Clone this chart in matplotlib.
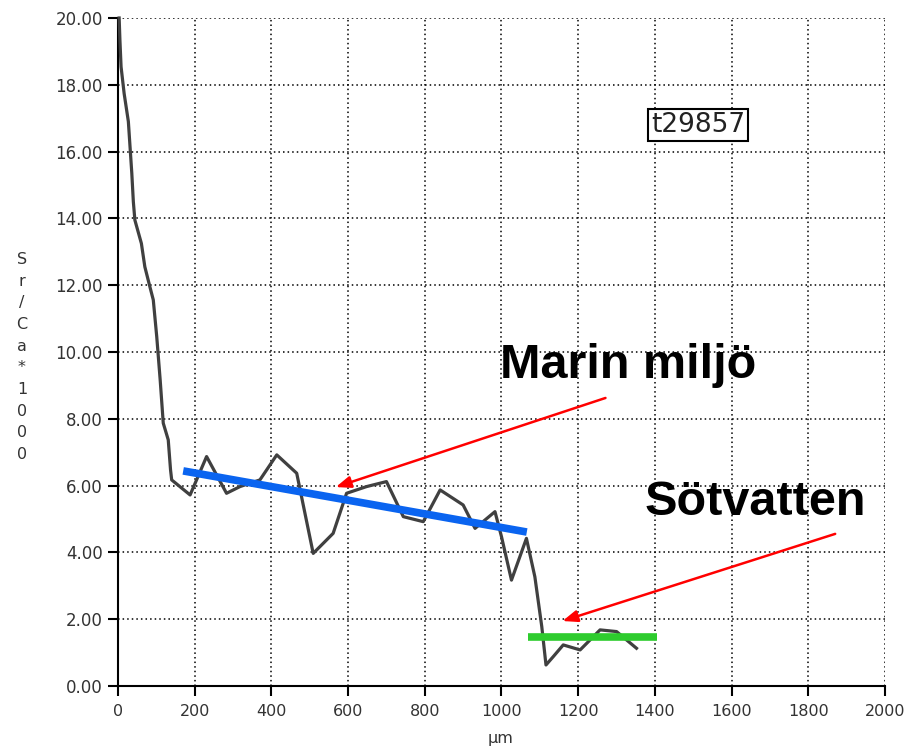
import matplotlib
matplotlib.use("Agg")
import matplotlib.pyplot as plt

# data
dist_um = [3, 5, 8, 16, 27, 36, 40, 44, 61, 70, 83, 92, 101, 110, 118, 131, 137, 140,
           188, 231, 283, 318, 370, 414, 466, 509, 561, 596, 648, 700, 744, 796, 840,
           900, 931, 983, 1000, 1026, 1065, 1087, 1105, 1116, 1135, 1161, 1205, 1257,
           1300, 1326, 1352]
sr_ca = [20.0, 19.34, 18.54, 17.74, 16.9, 15.35, 14.5, 13.95, 13.25, 12.55, 11.96, 11.56,
         10.46, 9.16, 7.87, 7.37, 6.47, 6.17, 5.72, 6.87, 5.77, 5.97, 6.17, 6.92, 6.37,
         3.97, 4.57, 5.77, 5.97, 6.12, 5.07, 4.92, 5.87, 5.42, 4.72, 5.22, 4.47, 3.17,
         4.42, 3.27, 1.78, 0.63, 0.88, 1.23, 1.08, 1.68, 1.63, 1.38, 1.13]

marine_x = [170, 1066]
marine_y = [6.44, 4.61]
fresh_x = [1069, 1405]
fresh_y = [1.47, 1.47]

x_ticks = list(range(0, 2001, 200))
y_ticks = [0, 2, 4, 6, 8, 10, 12, 14, 16, 18, 20]
y_tick_labels = [f"{v:.2f}" for v in y_ticks]
ylabel_text = "Sr/Ca*1000"
xlabel_text = "µm"
sample_id = "t29857"
label_marine = "Marin miljö"
label_fresh = "Sötvatten"

fig = plt.figure(figsize=(9.12, 7.5), dpi=100)
ax = fig.add_axes([118 / 912, 1 - 686 / 750, (885 - 118) / 912, (686 - 18) / 750])

ax.set_xlim(0, 2000)
ax.set_ylim(0, 20)
ax.set_xticks(x_ticks)
ax.set_yticks(y_ticks)
ax.set_yticklabels(y_tick_labels)
ax.grid(True, color="black", linestyle=(0, (1, 2)), linewidth=1.1)
ax.set_axisbelow(True)
for s in ["top", "right"]:
    ax.spines[s].set_visible(False)
for s in ["left", "bottom"]:
    ax.spines[s].set_linewidth(1.5)
ax.tick_params(axis="both", direction="out", length=7, width=1.5, colors="black",
               labelcolor="#333333")
ax.tick_params(axis="y", labelsize=12, pad=4)
ax.tick_params(axis="x", labelsize=11.5, pad=6)

ax.plot(dist_um, sr_ca, color="#404040", linewidth=2.3, clip_on=False, zorder=3)
ax.plot(marine_x, marine_y, color="#0a64f0", linewidth=5.5, solid_capstyle="butt", zorder=4)
ax.plot(fresh_x, fresh_y, color="#2ecc2e", linewidth=5.5, solid_capstyle="butt", zorder=4)

arrow_kw = dict(arrowstyle="-|>,head_length=0.9,head_width=0.35", color="red", lw=1.8)
ax.annotate("", xy=(561, 5.93), xytext=(1278, 8.65), arrowprops=arrow_kw, zorder=5)
ax.annotate("", xy=(1152, 1.92), xytext=(1877, 4.58), arrowprops=arrow_kw, zorder=5)

ax.text(995, 9.22, label_marine, fontsize=35, fontweight="bold", family="Liberation Sans",
        ha="left", va="baseline", zorder=6)
ax.text(1372, 5.12, label_fresh, fontsize=35, fontweight="bold", family="Liberation Sans",
        ha="left", va="baseline", zorder=6)

ax.text(1512, 16.8, sample_id, fontsize=19, ha="center", va="center", color="#222222",
        bbox=dict(boxstyle="square,pad=0.12", facecolor="white", edgecolor="black", lw=1.5),
        zorder=6)

fig.text(22 / 912, 1 - 357 / 750, "\n".join(ylabel_text), ha="center", va="center",
         fontsize=11.5, color="#333333", linespacing=1.55)
fig.text(501 / 912, 1 - 738 / 750, xlabel_text, ha="center", va="center",
         fontsize=11.5, color="#333333")

fig.savefig("out.png", dpi=100, facecolor="white")
